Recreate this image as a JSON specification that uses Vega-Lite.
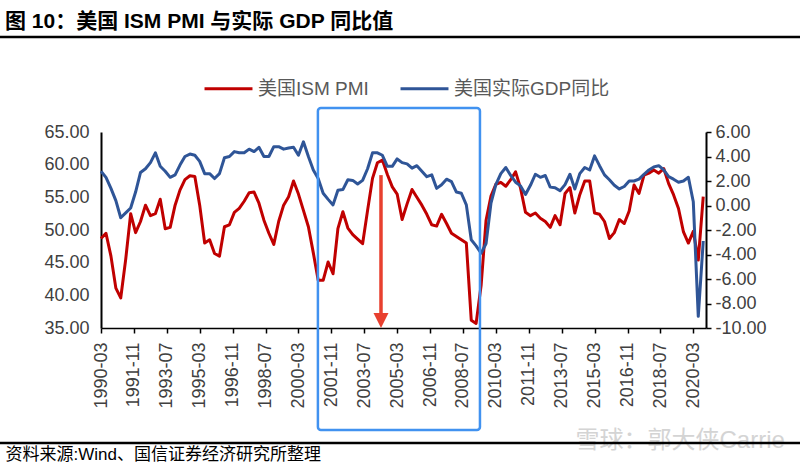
{
  "$schema": "https://vega.github.io/schema/vega-lite/v6.json",
  "width": 605,
  "height": 196,
  "autosize": {"type": "none"},
  "padding": {"left": 101, "top": 132, "right": 94, "bottom": 138},
  "background": "white",
  "config": {"view": {"stroke": null}, "font": "Liberation Sans", "axisX": {"labelOverlap": false, "labelSeparation": 0}, "axis": {"labelOverlap": false}},
  "title": {
    "text": "图 10：美国 ISM PMI 与实际 GDP 同比值",
    "anchor": "start",
    "frame": "group",
    "dx": -96,
    "font": "Liberation Sans, Noto Sans CJK SC",
    "fontSize": 21,
    "fontWeight": "bold",
    "color": "#000000"
  },
  "datasets": {
    "series": [
      {"date": "1990-03-01", "pmi": 48.7, "gdp": 2.8},
      {"date": "1990-06-01", "pmi": 49.5, "gdp": 2.3},
      {"date": "1990-09-01", "pmi": 46.0, "gdp": 1.4},
      {"date": "1990-12-01", "pmi": 41.1, "gdp": 0.4},
      {"date": "1991-03-01", "pmi": 39.6, "gdp": -1.0},
      {"date": "1991-06-01", "pmi": 45.5, "gdp": -0.6},
      {"date": "1991-09-01", "pmi": 52.5, "gdp": -0.2},
      {"date": "1991-12-01", "pmi": 49.6, "gdp": 1.1},
      {"date": "1992-03-01", "pmi": 51.3, "gdp": 2.7},
      {"date": "1992-06-01", "pmi": 53.8, "gdp": 3.0},
      {"date": "1992-09-01", "pmi": 52.2, "gdp": 3.5},
      {"date": "1992-12-01", "pmi": 52.5, "gdp": 4.3},
      {"date": "1993-03-01", "pmi": 54.7, "gdp": 3.2},
      {"date": "1993-06-01", "pmi": 50.2, "gdp": 2.8},
      {"date": "1993-09-01", "pmi": 50.4, "gdp": 2.3},
      {"date": "1993-12-01", "pmi": 53.8, "gdp": 2.5},
      {"date": "1994-03-01", "pmi": 56.1, "gdp": 3.3},
      {"date": "1994-06-01", "pmi": 57.7, "gdp": 4.0},
      {"date": "1994-09-01", "pmi": 58.3, "gdp": 4.2},
      {"date": "1994-12-01", "pmi": 58.2, "gdp": 4.1},
      {"date": "1995-03-01", "pmi": 53.8, "gdp": 3.6},
      {"date": "1995-06-01", "pmi": 48.0, "gdp": 2.6},
      {"date": "1995-09-01", "pmi": 48.5, "gdp": 2.6},
      {"date": "1995-12-01", "pmi": 46.4, "gdp": 2.2},
      {"date": "1996-03-01", "pmi": 46.0, "gdp": 2.6},
      {"date": "1996-06-01", "pmi": 50.5, "gdp": 3.9},
      {"date": "1996-09-01", "pmi": 50.8, "gdp": 4.0},
      {"date": "1996-12-01", "pmi": 52.7, "gdp": 4.4},
      {"date": "1997-03-01", "pmi": 53.3, "gdp": 4.3},
      {"date": "1997-06-01", "pmi": 54.4, "gdp": 4.3},
      {"date": "1997-09-01", "pmi": 55.7, "gdp": 4.6},
      {"date": "1997-12-01", "pmi": 55.8, "gdp": 4.4},
      {"date": "1998-03-01", "pmi": 54.1, "gdp": 4.75},
      {"date": "1998-06-01", "pmi": 51.5, "gdp": 4.0},
      {"date": "1998-09-01", "pmi": 49.5, "gdp": 4.0},
      {"date": "1998-12-01", "pmi": 47.8, "gdp": 4.8},
      {"date": "1999-03-01", "pmi": 51.3, "gdp": 4.8},
      {"date": "1999-06-01", "pmi": 53.8, "gdp": 4.6},
      {"date": "1999-09-01", "pmi": 55.1, "gdp": 4.7},
      {"date": "1999-12-01", "pmi": 57.5, "gdp": 4.75},
      {"date": "2000-03-01", "pmi": 55.5, "gdp": 4.1},
      {"date": "2000-06-01", "pmi": 53.0, "gdp": 5.2},
      {"date": "2000-09-01", "pmi": 50.5, "gdp": 4.0},
      {"date": "2000-12-01", "pmi": 46.5, "gdp": 2.9},
      {"date": "2001-03-01", "pmi": 42.3, "gdp": 2.2},
      {"date": "2001-06-01", "pmi": 42.3, "gdp": 1.0},
      {"date": "2001-09-01", "pmi": 45.1, "gdp": 0.5},
      {"date": "2001-12-01", "pmi": 43.3, "gdp": 0.05},
      {"date": "2002-03-01", "pmi": 50.2, "gdp": 1.25},
      {"date": "2002-06-01", "pmi": 52.8, "gdp": 1.3},
      {"date": "2002-09-01", "pmi": 50.3, "gdp": 2.1},
      {"date": "2002-12-01", "pmi": 49.3, "gdp": 2.05},
      {"date": "2003-03-01", "pmi": 48.6, "gdp": 1.75},
      {"date": "2003-06-01", "pmi": 47.9, "gdp": 2.05},
      {"date": "2003-09-01", "pmi": 53.0, "gdp": 3.0},
      {"date": "2003-12-01", "pmi": 57.9, "gdp": 4.3},
      {"date": "2004-03-01", "pmi": 60.3, "gdp": 4.3},
      {"date": "2004-06-01", "pmi": 60.7, "gdp": 4.1},
      {"date": "2004-09-01", "pmi": 58.5, "gdp": 3.2},
      {"date": "2004-12-01", "pmi": 56.6, "gdp": 3.2},
      {"date": "2005-03-01", "pmi": 55.5, "gdp": 3.8},
      {"date": "2005-06-01", "pmi": 51.6, "gdp": 3.5},
      {"date": "2005-09-01", "pmi": 54.0, "gdp": 3.4},
      {"date": "2005-12-01", "pmi": 56.2, "gdp": 3.05},
      {"date": "2006-03-01", "pmi": 55.0, "gdp": 3.25},
      {"date": "2006-06-01", "pmi": 53.8, "gdp": 2.8},
      {"date": "2006-09-01", "pmi": 52.4, "gdp": 2.35},
      {"date": "2006-12-01", "pmi": 50.8, "gdp": 2.5},
      {"date": "2007-03-01", "pmi": 50.6, "gdp": 1.4},
      {"date": "2007-06-01", "pmi": 52.4, "gdp": 1.7},
      {"date": "2007-09-01", "pmi": 51.0, "gdp": 2.15},
      {"date": "2007-12-01", "pmi": 49.5, "gdp": 1.95},
      {"date": "2008-03-01", "pmi": 49.0, "gdp": 1.1},
      {"date": "2008-06-01", "pmi": 48.5, "gdp": 1.0},
      {"date": "2008-09-01", "pmi": 48.0, "gdp": 0.05},
      {"date": "2008-12-01", "pmi": 36.2, "gdp": -2.8},
      {"date": "2009-03-01", "pmi": 35.7, "gdp": -3.3},
      {"date": "2009-06-01", "pmi": 41.5, "gdp": -3.9},
      {"date": "2009-09-01", "pmi": 51.5, "gdp": -3.1},
      {"date": "2009-12-01", "pmi": 55.2, "gdp": 0.2},
      {"date": "2010-03-01", "pmi": 57.0, "gdp": 1.7},
      {"date": "2010-06-01", "pmi": 57.3, "gdp": 2.6},
      {"date": "2010-09-01", "pmi": 56.7, "gdp": 3.1},
      {"date": "2010-12-01", "pmi": 57.7, "gdp": 2.45},
      {"date": "2011-03-01", "pmi": 58.9, "gdp": 1.9},
      {"date": "2011-06-01", "pmi": 56.4, "gdp": 1.6},
      {"date": "2011-09-01", "pmi": 52.7, "gdp": 0.9},
      {"date": "2011-12-01", "pmi": 52.2, "gdp": 1.65},
      {"date": "2012-03-01", "pmi": 52.6, "gdp": 2.55},
      {"date": "2012-06-01", "pmi": 51.8, "gdp": 2.3},
      {"date": "2012-09-01", "pmi": 51.3, "gdp": 2.45},
      {"date": "2012-12-01", "pmi": 50.4, "gdp": 1.5},
      {"date": "2013-03-01", "pmi": 52.2, "gdp": 1.45},
      {"date": "2013-06-01", "pmi": 50.8, "gdp": 1.2},
      {"date": "2013-09-01", "pmi": 55.6, "gdp": 1.7},
      {"date": "2013-12-01", "pmi": 56.5, "gdp": 2.55},
      {"date": "2014-03-01", "pmi": 52.6, "gdp": 1.35},
      {"date": "2014-06-01", "pmi": 55.4, "gdp": 2.6},
      {"date": "2014-09-01", "pmi": 57.5, "gdp": 3.1},
      {"date": "2014-12-01", "pmi": 57.5, "gdp": 2.9},
      {"date": "2015-03-01", "pmi": 52.6, "gdp": 4.05},
      {"date": "2015-06-01", "pmi": 52.4, "gdp": 3.25},
      {"date": "2015-09-01", "pmi": 51.3, "gdp": 2.5},
      {"date": "2015-12-01", "pmi": 48.7, "gdp": 2.1},
      {"date": "2016-03-01", "pmi": 49.6, "gdp": 1.65},
      {"date": "2016-06-01", "pmi": 51.6, "gdp": 1.35},
      {"date": "2016-09-01", "pmi": 51.0, "gdp": 1.55},
      {"date": "2016-12-01", "pmi": 52.9, "gdp": 2.0},
      {"date": "2017-03-01", "pmi": 56.9, "gdp": 2.0},
      {"date": "2017-06-01", "pmi": 55.6, "gdp": 2.15},
      {"date": "2017-09-01", "pmi": 58.4, "gdp": 2.55},
      {"date": "2017-12-01", "pmi": 58.7, "gdp": 2.9},
      {"date": "2018-03-01", "pmi": 59.2, "gdp": 3.15},
      {"date": "2018-06-01", "pmi": 58.7, "gdp": 3.25},
      {"date": "2018-09-01", "pmi": 59.4, "gdp": 2.9},
      {"date": "2018-12-01", "pmi": 57.1, "gdp": 2.35},
      {"date": "2019-03-01", "pmi": 55.4, "gdp": 2.15},
      {"date": "2019-06-01", "pmi": 53.3, "gdp": 1.9},
      {"date": "2019-09-01", "pmi": 49.7, "gdp": 2.0},
      {"date": "2019-12-01", "pmi": 48.0, "gdp": 2.3},
      {"date": "2020-03-01", "pmi": 49.8, "gdp": 0.3},
      {"date": "2020-06-01", "pmi": 45.4, "gdp": -9.05},
      {"date": "2020-09-01", "pmi": 55.1, "gdp": -2.9}
    ],
    "box": [{"date": "2001-02-24", "end": "2009-05-11", "top": 68.67, "bottom": 19.39}],
    "arrow": [{"date": "2004-05-06", "from": 58.4, "to": 37.2, "tip": 36.15}],
    "frame": [
      {"date": "1984-01-01", "end": "2027-01-01", "level": 79.54},
      {"date": "1984-01-01", "end": "2027-01-01", "level": 17.4}
    ]
  },
  "resolve": {"scale": {"y": "independent"}, "axis": {"y": "independent"}},
  "encoding": {
    "x": {
      "field": "date", "type": "temporal",
      "scale": {"type": "utc", "nice": false, "domain": [{"year": 1990, "month": 3, "date": 1, "utc": true}, {"year": 2020, "month": 10, "date": 22, "utc": true}]},
      "axis": {
        "values": [
          {"year": 1990, "month": 3, "date": 1, "utc": true},
          {"year": 1991, "month": 11, "date": 1, "utc": true},
          {"year": 1993, "month": 7, "date": 1, "utc": true},
          {"year": 1995, "month": 3, "date": 1, "utc": true},
          {"year": 1996, "month": 11, "date": 1, "utc": true},
          {"year": 1998, "month": 7, "date": 1, "utc": true},
          {"year": 2000, "month": 3, "date": 1, "utc": true},
          {"year": 2001, "month": 11, "date": 1, "utc": true},
          {"year": 2003, "month": 7, "date": 1, "utc": true},
          {"year": 2005, "month": 3, "date": 1, "utc": true},
          {"year": 2006, "month": 11, "date": 1, "utc": true},
          {"year": 2008, "month": 7, "date": 1, "utc": true},
          {"year": 2010, "month": 3, "date": 1, "utc": true},
          {"year": 2011, "month": 11, "date": 1, "utc": true},
          {"year": 2013, "month": 7, "date": 1, "utc": true},
          {"year": 2015, "month": 3, "date": 1, "utc": true},
          {"year": 2016, "month": 11, "date": 1, "utc": true},
          {"year": 2018, "month": 7, "date": 1, "utc": true},
          {"year": 2020, "month": 3, "date": 1, "utc": true}
        ],
        "labelExpr": "utcFormat(datum.value, '%Y-%m')",
        "labelAngle": 270,
        "labelFont": "Liberation Sans",
        "labelFontSize": 18,
        "labelColor": "#404040",
        "labelPadding": 9,
        "labelOverlap": false,
        "labelSeparation": 0,
        "labelFlush": false,
        "tickSize": 5,
        "tickColor": "#000000",
        "tickWidth": 1.5,
        "domainColor": "#000000",
        "domainWidth": 1.5,
        "grid": false,
        "title": "资料来源:Wind、国信证券经济研究所整理",
        "titleX": -96,
        "titleY": 126,
        "titleAlign": "left",
        "titleBaseline": "middle",
        "titleFont": "Liberation Sans, Noto Sans CJK SC",
        "titleFontSize": 17,
        "titleFontWeight": "normal",
        "titleColor": "#000000"
      }
    }
  },
  "layer": [
    {
      "data": {"name": "series"},
      "mark": {"type": "line", "strokeWidth": 3, "strokeJoin": "round"},
      "encoding": {
        "y": {
          "field": "pmi", "type": "quantitative",
          "scale": {"domain": [35, 65], "nice": false, "zero": false},
          "axis": {
            "values": [35, 40, 45, 50, 55, 60, 65],
            "labelExpr": "format(datum.value, '.2f')",
            "ticks": false,
            "labelPadding": 12,
            "labelFont": "Liberation Sans",
            "labelFontSize": 18,
            "labelColor": "#404040",
            "domainColor": "#000000",
            "domainWidth": 2,
            "grid": false,
            "title": null
          }
        },
        "color": {
          "datum": "美国ISM PMI", "type": "nominal",
          "scale": {"domain": ["美国ISM PMI", "美国实际GDP同比"], "range": ["#c00000", "#2f5597"]},
          "legend": {
            "orient": "none",
            "legendX": 102,
            "legendY": -69,
            "direction": "horizontal",
            "title": null,
            "symbolType": "stroke",
            "symbolStrokeWidth": 3,
            "symbolSize": 2300,
            "labelFont": "Liberation Sans, Noto Sans CJK SC",
            "labelFontSize": 19,
            "labelColor": "#595959",
            "labelOffset": 4,
            "columnPadding": 25
          }
        }
      }
    },
    {
      "data": {"name": "series"},
      "mark": {"type": "line", "strokeWidth": 3, "strokeJoin": "round"},
      "encoding": {
        "y": {
          "field": "gdp", "type": "quantitative",
          "scale": {"domain": [-10, 6], "nice": false, "zero": false},
          "axis": {
            "orient": "right",
            "values": [-10, -8, -6, -4, -2, 0, 2, 4, 6],
            "labelExpr": "replace(format(datum.value, '.2f'), '−', '-')",
            "tickSize": 5,
            "tickColor": "#000000",
            "tickWidth": 1.5,
            "labelPadding": 4,
            "labelFont": "Liberation Sans",
            "labelFontSize": 18,
            "labelColor": "#404040",
            "domainColor": "#000000",
            "domainWidth": 2,
            "grid": false,
            "title": "雪球：郭大侠Carrie",
            "titleAngle": 0,
            "titleX": -131,
            "titleY": 308,
            "titleAlign": "left",
            "titleBaseline": "middle",
            "titleFont": "Liberation Sans, Noto Sans CJK SC",
            "titleFontSize": 24,
            "titleFontWeight": "normal",
            "titleColor": "#d4d4d4"
          }
        },
        "color": {"datum": "美国实际GDP同比", "type": "nominal"}
      }
    },
    {
      "data": {"name": "box"},
      "mark": {"type": "rect", "filled": false, "color": "#4192f0", "strokeWidth": 2.5, "cornerRadius": 3},
      "encoding": {
        "x2": {"field": "end"},
        "y": {"field": "top", "type": "quantitative", "scale": {"domain": [35, 65], "nice": false, "zero": false}, "axis": null},
        "y2": {"field": "bottom"}
      }
    },
    {
      "data": {"name": "arrow"},
      "mark": {"type": "rule", "color": "#e8402f", "strokeWidth": 3.5},
      "encoding": {
        "y": {"field": "from", "type": "quantitative", "scale": {"domain": [35, 65], "nice": false, "zero": false}, "axis": null},
        "y2": {"field": "to"}
      }
    },
    {
      "data": {"name": "arrow"},
      "mark": {"type": "point", "shape": "M-1,-1L1,-1L0,1Z", "filled": true, "color": "#e8402f", "size": 225, "opacity": 1, "strokeWidth": 0},
      "encoding": {
        "y": {"field": "tip", "type": "quantitative", "scale": {"domain": [35, 65], "nice": false, "zero": false}, "axis": null}
      }
    },
    {
      "data": {"name": "frame"},
      "mark": {"type": "rule", "color": "#000000", "strokeWidth": 2.5},
      "encoding": {
        "x2": {"field": "end"},
        "y": {"field": "level", "type": "quantitative", "scale": {"domain": [35, 65], "nice": false, "zero": false}, "axis": null}
      }
    }
  ]
}
